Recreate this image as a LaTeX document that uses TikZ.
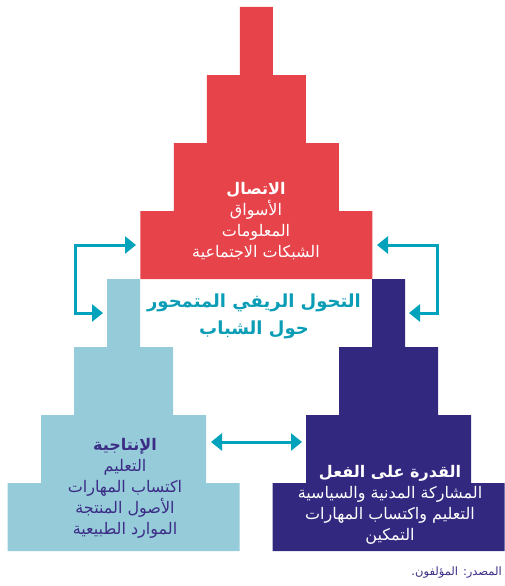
\documentclass[tikz,border=0pt]{standalone}
\usepackage{fontspec}
\usetikzlibrary{arrows.meta}
\TeXXeTstate=1
\newfontfamily\ar[Script=Arabic]{DejaVu Sans}
\definecolor{cred}{HTML}{E6434B}
\definecolor{clight}{HTML}{96CBDA}
\definecolor{cdark}{HTML}{32287F}
\definecolor{cteal}{HTML}{00A3BB}
\definecolor{ctitle}{HTML}{0A9DB5}
\definecolor{ctext}{HTML}{3B2D85}
\newcommand\stepPyr[3]{%
\fill[#3] ({#1-16.5},{#2}) -- ({#1+16.5},{#2}) -- ({#1+16.5},{#2+68}) -- ({#1+49.5},{#2+68})
 -- ({#1+49.5},{#2+136}) -- ({#1+82.5},{#2+136}) -- ({#1+82.5},{#2+204}) -- ({#1+116},{#2+204})
 -- ({#1+116},{#2+272}) -- ({#1-116},{#2+272}) -- ({#1-116},{#2+204}) -- ({#1-82.5},{#2+204})
 -- ({#1-82.5},{#2+136}) -- ({#1-49.5},{#2+136}) -- ({#1-49.5},{#2+68}) -- ({#1-16.5},{#2+68}) -- cycle;}
\tikzset{
 link/.style={draw=cteal, line width=3pt, {Triangle[length=11pt,width=17pt]}-{Triangle[length=11pt,width=17pt]}},
 body/.style={font=\ar\fontsize{16}{21}\selectfont, align=center, inner sep=0pt},
}
\begin{document}
\begin{tikzpicture}[x=1pt,y=-1pt]
\useasboundingbox (0,0) rectangle (504,586);
\stepPyr{256.3}{7}{cred}
\stepPyr{123.5}{279}{clight}
\stepPyr{388.5}{279}{cdark}
% texts
\node[body, text=white] (conn) at (256,221) {{\bfseries\beginR الاتصال\endR}\\\beginR الأسواق\endR\\\beginR المعلومات\endR\\\beginR الشبكات الاجتماعية\endR};
\node[body, text=ctext] (prod) at (125,488) {{\bfseries\beginR الإنتاجية\endR}\\\beginR التعليم\endR\\\beginR اكتساب المهارات\endR\\\beginR الأصول المنتجة\endR\\\beginR الموارد الطبيعية\endR};
\node[body, text=white] (agency) at (390,505) {{\bfseries\beginR القدرة على الفعل\endR}\\\beginR المشاركة المدنية والسياسية\endR\\\beginR التعليم واكتساب المهارات\endR\\\beginR التمكين\endR};
\node[body, text=ctitle, font=\ar\bfseries\fontsize{18}{27}\selectfont] (title) at (254,316.5) {\beginR التحول الريفي المتمحور\endR\\\beginR حول الشباب\endR};
\node[anchor=east, inner sep=0pt, text=ctext, font=\ar\fontsize{11.5}{13}\selectfont] (src) at (502,573) {\beginR المصدر: المؤلفون.\endR};
% connectors
\coordinate (redL) at (136,245);
\coordinate (lbL) at (103,313);
\coordinate (redR) at (377,245);
\coordinate (dbR) at (409,313);
\coordinate (lbR) at (211,442);
\coordinate (dbL) at (302,442);
\draw[link] (redL) -- (75,245) -- (75,313) -- (lbL);
\draw[link] (redR) -- (437,245) -- (437,313) -- (dbR);
\draw[link] (lbR) -- (dbL);
\end{tikzpicture}
\end{document}
